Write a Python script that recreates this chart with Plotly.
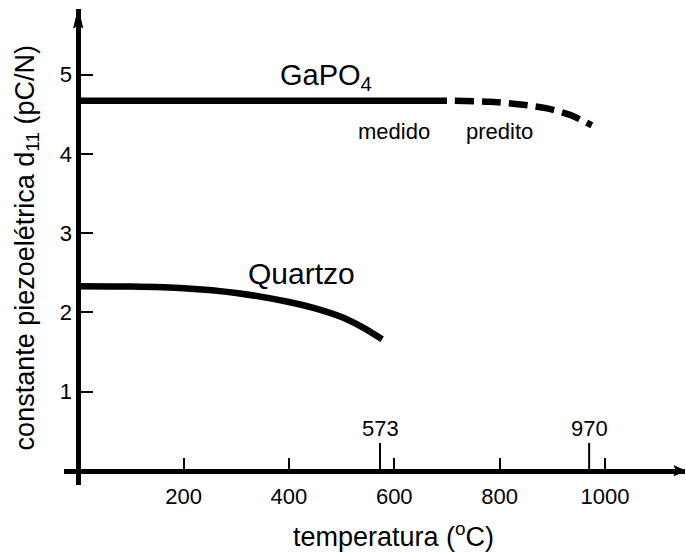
import plotly.graph_objects as go

# ---- data ----
gapo4_measured_x = [0, 700]
gapo4_measured_y = [4.67, 4.67]
gapo4_predicted_x = [715, 780, 840, 890, 935, 975]
gapo4_predicted_y = [4.67, 4.66, 4.625, 4.575, 4.49, 4.36]
quartz_x = [0, 100, 200, 300, 400, 450, 500, 540, 577]
quartz_y = [2.33, 2.325, 2.305, 2.245, 2.13, 2.05, 1.94, 1.81, 1.66]
x_ticks = [200, 400, 600, 800, 1000]
y_ticks = [1, 2, 3, 4, 5]
transition_x = [573, 970]
transition_labels = ["573", "970"]

X_RANGE = [-27, 1152]
Y_RANGE = [-0.18, 5.83]
FONT = "Liberation Sans, Arial, sans-serif"

fig = go.Figure()

fig.add_trace(go.Scatter(x=gapo4_measured_x, y=gapo4_measured_y, mode="lines",
                         line=dict(color="black", width=6.5), hoverinfo="skip"))
fig.add_trace(go.Scatter(x=gapo4_predicted_x, y=gapo4_predicted_y, mode="lines",
                         line=dict(color="black", width=6.5, dash="19px,8px", shape="spline",
                                   smoothing=0.8),
                         hoverinfo="skip"))
fig.add_trace(go.Scatter(x=quartz_x, y=quartz_y, mode="lines",
                         line=dict(color="black", width=6.5, shape="spline", smoothing=0.8),
                         hoverinfo="skip"))

# paper positions of the zero lines
x_zero_paper = (0 - X_RANGE[0]) / (X_RANGE[1] - X_RANGE[0])
y_zero_paper = (0 - Y_RANGE[0]) / (Y_RANGE[1] - Y_RANGE[0])

shapes = []
annotations = []
# long transition ticks
for tx, tl in zip(transition_x, transition_labels):
    shapes.append(dict(type="line", xref="x", yref="y", x0=tx, x1=tx, y0=0, y1=0.35,
                       line=dict(color="black", width=2)))
    annotations.append(dict(x=tx, y=0.35, xref="x", yref="y", text=tl, showarrow=False,
                            xanchor="center", yanchor="bottom", yshift=0,
                            font=dict(size=22, color="black", family=FONT)))

# axis arrowheads (pixel-sized, anchored at data ends of axes)
shapes.append(dict(type="path", xref="x", yref="y", xsizemode="pixel", ysizemode="pixel",
                   xanchor=0, yanchor=Y_RANGE[1],
                   path="M0,0 L-4.5,-19 L0,-15 L4.5,-19 Z",
                   fillcolor="black", line=dict(color="black", width=1)))
shapes.append(dict(type="path", xref="x", yref="y", xsizemode="pixel", ysizemode="pixel",
                   xanchor=X_RANGE[1], yanchor=0,
                   path="M0,0 L-11,5 L-8,0 L-11,-5 Z",
                   fillcolor="black", line=dict(color="black", width=1)))

# text labels
annotations += [
    dict(x=379, y=4.97, xref="x", yref="y", text="GaPO<sub>4</sub>", showarrow=False,
         xanchor="left", yanchor="middle", font=dict(size=29, color="black", family=FONT)),
    dict(x=528, y=4.28, xref="x", yref="y", text="medido", showarrow=False,
         xanchor="left", yanchor="middle", font=dict(size=22, color="black", family=FONT)),
    dict(x=732, y=4.28, xref="x", yref="y", text="predito", showarrow=False,
         xanchor="left", yanchor="middle", font=dict(size=22, color="black", family=FONT)),
    dict(x=318, y=2.49, xref="x", yref="y", text="Quartzo", showarrow=False,
         xanchor="left", yanchor="middle", font=dict(size=30, color="black", family=FONT)),
    dict(x=598, y=-0.105, xref="x", yref="paper", text="temperatura (<sup>o</sup>C)",
         showarrow=False, xanchor="center", yanchor="middle",
         font=dict(size=27, color="black", family=FONT)),
    dict(x=-0.0596, y=2.82, xref="paper", yref="y",
         text="constante piezoelétrica d<sub>11</sub> (pC/N)", textangle=-90,
         showarrow=False, xanchor="center", yanchor="middle",
         font=dict(size=27, color="black", family=FONT)),
]

fig.update_layout(
    width=686, height=552,
    margin=dict(l=64, r=1, t=9, b=67),
    paper_bgcolor="white", plot_bgcolor="white",
    showlegend=False,
    font=dict(family=FONT, color="black"),
    shapes=shapes,
    annotations=annotations,
    xaxis=dict(range=X_RANGE, anchor="free", position=y_zero_paper,
               showline=True, linewidth=4.5, linecolor="black",
               showgrid=False, zeroline=False,
               ticks="inside", ticklen=11, tickwidth=2, tickcolor="black",
               ticklabelstandoff=4,
               tickvals=x_ticks, ticktext=[str(v) for v in x_ticks],
               tickfont=dict(size=22, color="black", family=FONT)),
    yaxis=dict(range=Y_RANGE, anchor="free", position=x_zero_paper,
               showline=True, linewidth=4.5, linecolor="black",
               showgrid=False, zeroline=False,
               ticks="inside", ticklen=12, tickwidth=2, tickcolor="black",
               tickvals=y_ticks, ticktext=[str(v) for v in y_ticks],
               tickfont=dict(size=22, color="black", family=FONT)),
)

fig.write_html("out.html")
